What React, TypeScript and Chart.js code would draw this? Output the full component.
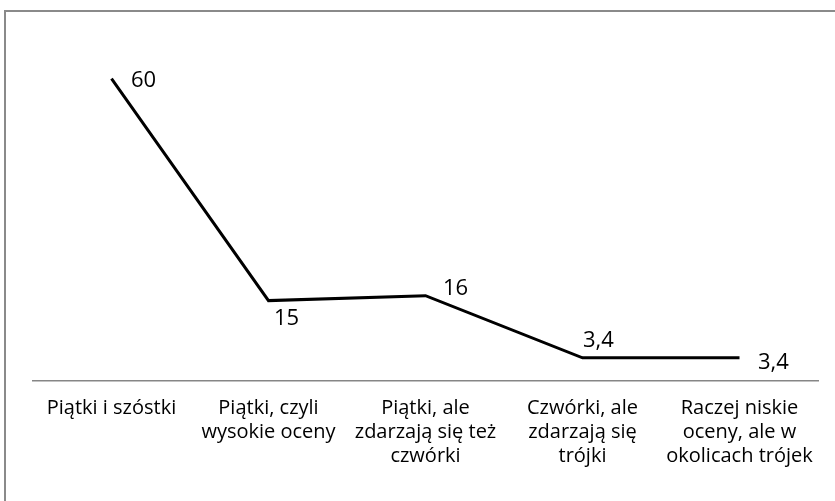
import React, { useEffect, useRef } from "react";
import { Chart, registerables } from "chart.js";

Chart.register(...registerables);

const categories: string[][] = [
  ["Piątki i szóstki"],
  ["Piątki, czyli", "wysokie oceny"],
  ["Piątki, ale", "zdarzają się też", "czwórki"],
  ["Czwórki, ale", "zdarzają się", "trójki"],
  ["Raczej niskie", "oceny, ale w", "okolicach trójek"],
];

const values: number[] = [60, 15, 16, 3.4, 3.4];
const valueLabels: string[] = ["60", "15", "16", "3,4", "3,4"];

const FONT = "'Open Sans', 'DejaVu Sans', sans-serif";

// label offsets relative to each point (dx to left edge, dy to baseline)
const labelOffsets = [
  [19.5, 8],
  [5.5, 24],
  [17.5, -1],
  [0.5, -11],
  [18.5, 11.5],
];

const framePlugin = {
  id: "frame",
  beforeDraw(chart: any) {
    const ctx = chart.ctx;
    ctx.save();
    ctx.fillStyle = "#ffffff";
    ctx.fillRect(0, 0, chart.width, chart.height);
    ctx.strokeStyle = "#8a8a8a";
    ctx.lineWidth = 2;
    ctx.strokeRect(5, 11, chart.width + 20, chart.height + 20);
    ctx.restore();
  },
};

const labelPlugin = {
  id: "valueLabels",
  afterDatasetsDraw(chart: any) {
    const ctx = chart.ctx;
    const meta = chart.getDatasetMeta(0);
    ctx.save();
    ctx.font = `22px ${FONT}`;
    ctx.fillStyle = "#000000";
    ctx.textAlign = "left";
    ctx.textBaseline = "alphabetic";
    meta.data.forEach((pt: any, i: number) => {
      const [dx, dy] = labelOffsets[i];
      ctx.fillText(valueLabels[i], pt.x + dx, pt.y + dy);
    });
    ctx.restore();
  },
};

export default function App() {
  const ref = useRef<HTMLCanvasElement>(null);
  useEffect(() => {
    if (!ref.current) return;
    const chart = new Chart(ref.current, {
      type: "line",
      data: {
        labels: categories,
        datasets: [
          {
            data: values,
            borderColor: "#000000",
            borderWidth: 3,
            pointRadius: 0,
            tension: 0,
            fill: false,
          },
        ],
      },
      options: {
        responsive: false,
        animation: false,
        layout: { padding: { left: 33, right: 17, top: 59, bottom: 0 } },
        plugins: {
          legend: { display: false },
          tooltip: { enabled: false },
        },
        scales: {
          x: {
            offset: true,
            grid: { display: false, drawTicks: false },
            border: { display: true, color: "#868686", width: 1.5 },
            ticks: {
              autoSkip: false,
              maxRotation: 0,
              minRotation: 0,
              padding: 15,
              color: "#000000",
              font: { family: FONT, size: 20, lineHeight: "24px" },
            },
            afterFit(scale: any) {
              scale.height = 120;
            },
          },
          y: {
            display: false,
            min: -1.3,
            max: 64,
          },
        },
      },
      plugins: [framePlugin, labelPlugin],
    });
    return () => chart.destroy();
  }, []);
  return (
    <div style={{ position: "fixed", left: 0, top: 0, width: 835, height: 501 }}>
      <canvas ref={ref} width={835} height={501} />
    </div>
  );
}
